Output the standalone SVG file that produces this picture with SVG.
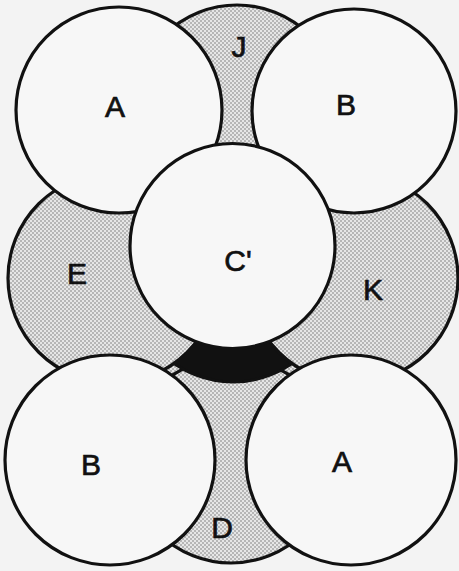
<svg xmlns="http://www.w3.org/2000/svg" width="459" height="571" viewBox="0 0 459 571">
<defs>
<pattern id="stip" width="4" height="4" patternUnits="userSpaceOnUse">
<rect width="4" height="4" fill="#e6e6e6"/>
<circle cx="1" cy="1" r="0.8" fill="#7a7a7a"/>
<circle cx="3" cy="3" r="0.8" fill="#7a7a7a"/>
</pattern>
<style>
.gray{fill:url(#stip);stroke:#111;stroke-width:3.2}
.white{fill:#f7f7f7;stroke:#111;stroke-width:3.2}
.dark{fill:#111;stroke:#111;stroke-width:3}
.lbl{font-family:"Liberation Sans",Arial,sans-serif;font-size:30px;fill:#111;stroke:#111;stroke-width:0.7;text-anchor:middle}
</style>
</defs>
<rect width="459" height="571" fill="#f3f3f3"/>
<g id="D">
<path d="M160 350 L305 350 L305 390 L160 390 Z" fill="url(#stip)"/>
<circle class="gray" cx="231" cy="460" r="103"/>
</g>
<g id="C"><circle class="dark" cx="233" cy="278" r="104"/></g>
<g id="E"><circle class="gray" cx="113" cy="278" r="105"/></g>
<g id="K"><circle class="gray" cx="353" cy="278" r="105"/></g>
<g id="J"><circle class="gray" cx="237" cy="108" r="103"/></g>
<g id="A-top"><circle class="white" cx="119" cy="110" r="103"/></g>
<g id="B-top"><circle class="white" cx="354" cy="111" r="102"/></g>
<g id="C-prime"><circle class="white" cx="232.5" cy="246" r="102.5"/></g>
<g id="B-bottom"><circle class="white" cx="110" cy="460" r="105"/></g>
<g id="A-bottom"><circle class="white" cx="351" cy="460" r="105"/></g>
<g id="labels">
<text class="lbl" x="115" y="117">A</text>
<text class="lbl" x="346" y="115">B</text>
<text class="lbl" x="239" y="57">J</text>
<text class="lbl" x="238" y="271">C'</text>
<text class="lbl" x="77" y="284">E</text>
<text class="lbl" x="373" y="300">K</text>
<text class="lbl" x="91" y="475">B</text>
<text class="lbl" x="342" y="472">A</text>
<text class="lbl" x="222" y="538">D</text>
</g>
<g id="connectors"></g>
</svg>
